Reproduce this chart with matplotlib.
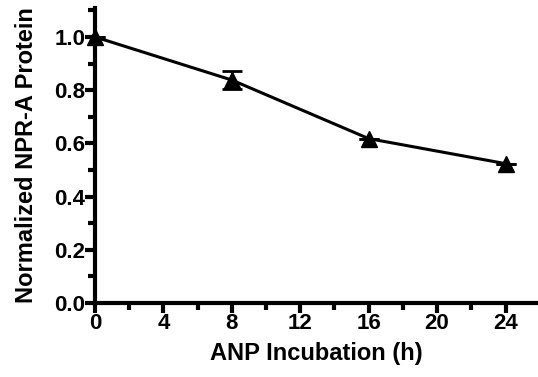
import numpy as np
import matplotlib.pyplot as plt
from matplotlib.ticker import MultipleLocator

hours = [0, 8, 16, 24]
protein = [1.0, 0.838, 0.618, 0.524]
sem = [0.0, 0.035, 0.0, 0.0]

plt.rcParams['font.family'] = 'Liberation Sans'
plt.rcParams['font.weight'] = 'bold'

fig = plt.figure(figsize=(5.38, 3.77), dpi=100)
ax = fig.add_axes([0.1766, 0.196, 0.8234, 0.783])

ax.errorbar(hours, protein, yerr=sem, color='black', lw=2.2, marker='^',
            markersize=11, capsize=7, capthick=2, elinewidth=2, clip_on=False, zorder=3)

ax.set_xlim(0, 25.9)
ax.set_ylim(0, 1.109)
ax.xaxis.set_major_locator(MultipleLocator(4))
ax.xaxis.set_minor_locator(MultipleLocator(2))
ax.yaxis.set_major_locator(MultipleLocator(0.2))
ax.yaxis.set_minor_locator(MultipleLocator(0.1))
ax.set_yticklabels([f'{v:.1f}' for v in ax.get_yticks()])

for s in ['top', 'right']:
    ax.spines[s].set_visible(False)
for s in ['left', 'bottom']:
    ax.spines[s].set_linewidth(3)

ax.tick_params(which='major', length=7, width=3, labelsize=16, pad=0)
ax.tick_params(which='minor', length=5, width=3)

ax.set_xlabel('ANP Incubation (h)', fontsize=17, fontweight='bold', labelpad=6)
ax.set_ylabel('Normalized NPR-A Protein', fontsize=17, fontweight='bold', labelpad=12)

fig.savefig('out.png', dpi=100)
